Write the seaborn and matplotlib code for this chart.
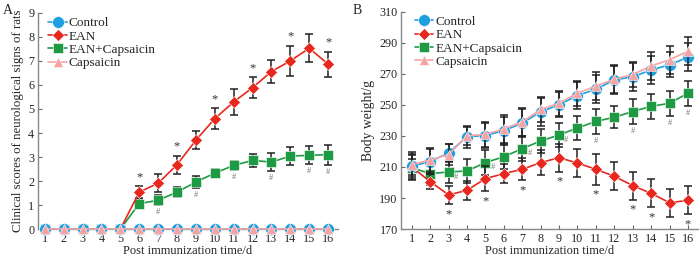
import numpy as np
import pandas as pd
import seaborn as sns
import matplotlib.pyplot as plt

days = list(range(1, 17))
groups = ['Control', 'EAN', 'EAN+Capsaicin', 'Capsaicin']
colors = {'Control': '#1e9fe0', 'EAN': '#e8281f',
          'EAN+Capsaicin': '#1f9a44', 'Capsaicin': '#f6a3a3'}
markers = {'Control': 'o', 'EAN': 'D', 'EAN+Capsaicin': 's', 'Capsaicin': '^'}
msizes = {'Control': 8.5, 'EAN': 6.3, 'EAN+Capsaicin': 6.5, 'Capsaicin': 7.2}

# panel A: clinical scores
score_control = [0] * 16
score_ean = [0, 0, 0, 0, 0, 1.54, 1.91, 2.68, 3.70, 4.60, 5.29, 5.89, 6.56, 7.00, 7.53, 6.87]
score_ean_err = [0, 0, 0, 0, 0, 0.24, 0.37, 0.38, 0.37, 0.45, 0.53, 0.43, 0.49, 0.64, 0.58, 0.52]
score_eancap = [0, 0, 0, 0, 0, 1.06, 1.20, 1.54, 1.96, 2.33, 2.65, 2.86, 2.79, 3.04, 3.07, 3.10]
score_eancap_err = [0, 0, 0, 0, 0, 0.19, 0.21, 0.22, 0.25, 0.17, 0.20, 0.28, 0.36, 0.38, 0.38, 0.42]
score_caps = [0] * 16
star_days_a = [6, 8, 10, 12, 14, 16]
hash_days_a = [7, 9, 11, 13, 15, 16]

# panel B: body weight
bw_control = [210.5, 213.5, 219.0, 229.5, 230.2, 233.4, 238.2, 245.5, 250.0, 256.0,
              260.0, 266.0, 268.0, 272.5, 275.7, 280.7]
bw_control_err = [8, 8, 6, 7, 8, 9, 9, 9, 8, 9, 9, 9, 9, 9, 8, 9]
bw_ean = [210.0, 200.6, 192.0, 195.0, 202.5, 205.7, 208.5, 212.8, 216.0, 212.5,
          208.5, 204.0, 198.0, 193.0, 187.0, 188.5]
bw_ean_err = [5, 5, 6, 6, 8, 6, 7, 8, 9, 9, 10, 9, 9, 9, 9, 9]
bw_eancap = [209.5, 205.7, 206.8, 207.4, 212.8, 216.6, 221.8, 226.7, 230.6, 235.1,
             239.3, 242.0, 245.7, 249.0, 251.0, 257.5]
bw_eancap_err = [8, 7, 7, 8, 8, 8, 8, 8, 8, 8, 8, 7, 8, 8, 8, 8]
bw_caps = [211.5, 214.5, 218.0, 230.0, 231.0, 234.5, 239.0, 247.0, 251.0, 257.5,
           262.0, 266.5, 269.5, 275.0, 279.0, 284.5]
bw_caps_err = [8, 8, 7, 6, 8, 9, 9, 8, 8, 8, 9, 9, 8, 9, 9, 9]
star_days_b = [3, 5, 7, 9, 11, 13, 14, 16]
hash_days_b = [3, 5, 7, 9, 11, 13, 15, 16]

sns.set_style('ticks')
plt.rcParams['font.family'] = ['Liberation Serif', 'DejaVu Serif']
plt.rcParams['font.size'] = 9

fig = plt.figure(figsize=(7, 2.58), dpi=100)
axA = fig.add_axes([0.054, 0.112, 0.429, 0.838])
axB = fig.add_axes([0.573, 0.112, 0.424, 0.843])

draw_order = ['EAN+Capsaicin', 'EAN', 'Control', 'Capsaicin']


def panel(ax, vals, errs, legx):
    df = pd.DataFrame([(g, d, v) for g in groups for d, v in zip(days, vals[g])],
                      columns=['group', 'day', 'value'])
    for z, g in enumerate(draw_order):
        if errs[g] is not None and max(errs[g]) > 0:
            ax.errorbar(days, vals[g], yerr=errs[g], fmt='none', ecolor='#222222',
                        elinewidth=1.1, capsize=2.8, capthick=1.1, zorder=3 + z, clip_on=False)
        sub = df[df.group == g]
        sns.lineplot(data=sub, x='day', y='value', ax=ax, color=colors[g],
                     marker=markers[g], markersize=msizes[g], markeredgewidth=0.4,
                     markeredgecolor='white',
                     linewidth=1.2, label=g, zorder=4 + z, clip_on=False)
    handles, labels = ax.get_legend_handles_labels()
    hd = dict(zip(labels, handles))
    ax.legend([hd[g] for g in groups], groups, loc='upper left',
              bbox_to_anchor=(legx, 1.005), frameon=False, fontsize=9.5,
              handlelength=1.4, handletextpad=0.15, labelspacing=0.08, borderaxespad=0)
    for s in ['top', 'right']:
        ax.spines[s].set_visible(False)
    for s in ['left', 'bottom']:
        ax.spines[s].set_color('#888888')
        ax.spines[s].set_linewidth(1.0)
    ax.tick_params(direction='in', length=3, color='#666666', labelsize=8.7, pad=2.5)
    ax.set_xticks(days)
    ax.set_xlabel('Post immunization time/d', fontsize=9, labelpad=0)


panel(axA,
      {'Control': score_control, 'EAN': score_ean,
       'EAN+Capsaicin': score_eancap, 'Capsaicin': score_caps},
      {'Control': None, 'EAN': score_ean_err,
       'EAN+Capsaicin': score_eancap_err, 'Capsaicin': None}, 0.018)
axA.set_xlim(0.63, 16.53)
axA.set_ylim(0, 9)
axA.set_yticks(range(0, 10))
axA.set_ylabel('Clinical scores of neurological signs of rats', fontsize=9.3, labelpad=3)

for d in star_days_a:
    i = d - 1
    axA.text(d, score_ean[i] + score_ean_err[i] + 0.12, '*', ha='center', va='bottom',
             fontsize=9, color='#333333')
for d in hash_days_a:
    i = d - 1
    axA.text(d, score_eancap[i] - score_eancap_err[i] - 0.12, '#', ha='center', va='top',
             fontsize=6, color='#777777')

panel(axB,
      {'Control': bw_control, 'EAN': bw_ean,
       'EAN+Capsaicin': bw_eancap, 'Capsaicin': bw_caps},
      {'Control': bw_control_err, 'EAN': bw_ean_err,
       'EAN+Capsaicin': bw_eancap_err, 'Capsaicin': bw_caps_err}, 0.028)
axB.set_xlim(0.42, 16.54)
axB.set_ylim(170, 310)
axB.set_yticks(range(170, 311, 20))
axB.set_ylabel('Body weight/g', fontsize=9.8, labelpad=3)

for d in star_days_b:
    i = d - 1
    axB.text(d, bw_ean[i] - bw_ean_err[i] - 2.5, '*', ha='center', va='top',
             fontsize=9, color='#333333')
for d in hash_days_b:
    i = d - 1
    if d < 10:
        axB.text(d + 0.4, bw_eancap[i] - 3, '#', ha='center', va='center',
                 fontsize=6, color='#777777')
    else:
        axB.text(d, bw_eancap[i] - bw_eancap_err[i] - 2, '#', ha='center', va='top',
                 fontsize=6, color='#777777')

fig.text(0.004, 0.985, 'A', fontsize=10, va='top')
fig.text(0.503, 0.985, 'B', fontsize=10, va='top')

fig.savefig('out.png', dpi=100)
